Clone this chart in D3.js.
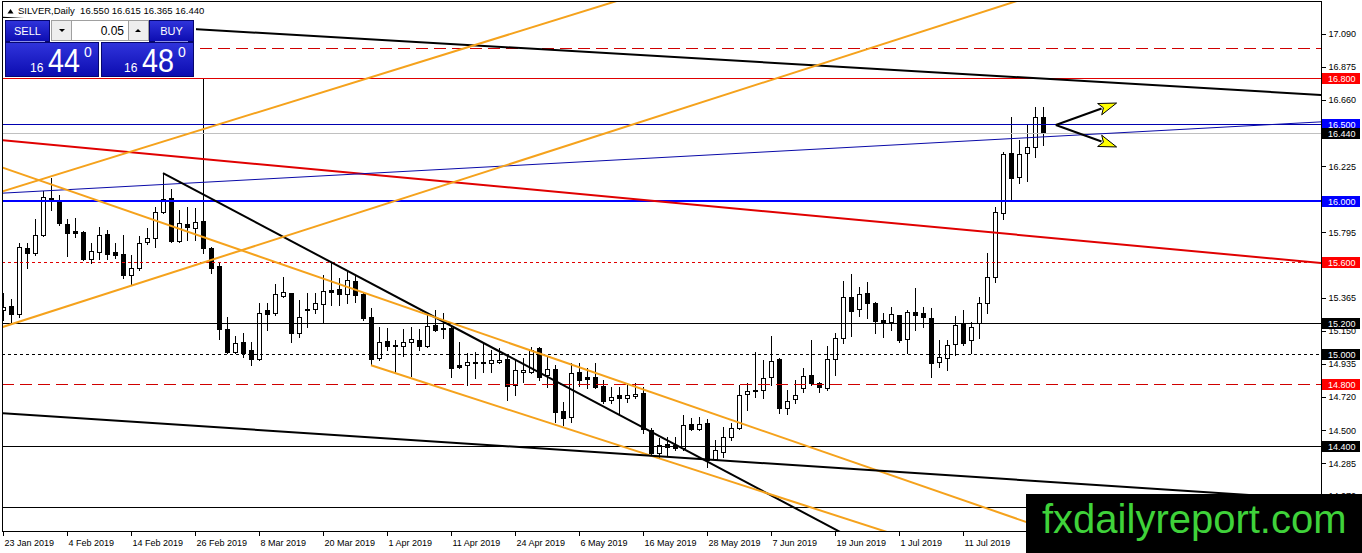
<!DOCTYPE html>
<html>
<head>
<meta charset="utf-8">
<script src="https://cdn.jsdelivr.net/npm/d3@7"></script>
<style>
  body { margin: 0; background: #fff; }
  svg text { font-family: "Liberation Sans", Arial, sans-serif; }
</style>
</head>
<body>
<svg id="chart" width="1362" height="553"></svg>
<script>
// SILVER daily candles, 23 Jan 2019 .. 25 Jul 2019 (bar index 0..130)
var opens = [
  15.285,15.311,15.258,15.690,15.657,15.775,16.017,16.004,15.847,15.801,
  15.795,15.618,15.664,15.782,15.664,15.651,15.514,15.559,15.729,15.756,
  15.926,16.017,15.736,15.847,15.821,15.867,15.690,15.572,15.160,15.010,
  15.075,15.023,14.964,15.285,15.265,15.376,15.396,15.134,15.291,15.291,
  15.324,15.415,15.422,15.389,15.474,15.389,15.239,14.971,15.082,15.056,
  15.049,15.075,15.088,15.049,15.187,15.167,15.167,14.925,14.925,14.945,
  14.945,14.938,14.945,14.964,14.794,14.879,14.879,15.036,14.860,14.899,
  14.624,14.585,14.879,14.846,14.846,14.788,14.696,14.729,14.709,14.722,
  14.742,14.500,14.349,14.408,14.402,14.382,14.539,14.506,14.546,14.310,
  14.356,14.454,14.513,14.735,14.755,14.761,14.846,14.964,14.644,14.703,
  14.774,14.860,14.807,14.774,14.964,15.102,15.370,15.291,15.396,15.330,
  15.219,15.206,15.252,15.095,15.272,15.265,15.232,14.945,14.971,15.062,
  15.200,15.088,15.200,15.330,15.500,15.919,16.312,16.155,16.312,16.351,
  16.550
]
var highs = [
  15.396,15.357,15.723,15.723,15.880,16.063,16.148,16.037,15.880,15.886,
  15.800,15.723,15.827,15.808,15.723,15.775,15.644,15.769,15.821,15.958,
  16.181,16.076,15.939,15.958,15.952,16.795,15.697,15.592,15.239,15.115,
  15.134,15.075,15.330,15.330,15.455,15.500,15.400,15.350,15.396,15.396,
  15.514,15.599,15.494,15.535,15.514,15.396,15.298,15.173,15.167,15.088,
  15.160,15.173,15.160,15.265,15.285,15.265,15.187,15.075,15.003,15.010,
  15.069,15.023,15.036,14.984,14.958,14.971,15.043,15.043,14.977,14.925,
  14.683,14.938,14.938,14.905,14.938,14.827,14.781,14.781,14.807,14.807,
  14.781,14.513,14.447,14.454,14.454,14.598,14.578,14.585,14.572,14.434,
  14.519,14.546,14.794,14.807,15.010,14.958,15.115,14.971,14.761,14.827,
  14.905,15.088,14.814,15.049,15.134,15.474,15.520,15.435,15.468,15.337,
  15.265,15.304,15.255,15.285,15.428,15.304,15.298,15.088,15.088,15.245,
  15.285,15.206,15.370,15.657,15.958,16.318,16.547,16.396,16.495,16.612,
  16.615
]
var lows = [
  15.219,15.193,15.239,15.559,15.644,15.769,15.939,15.841,15.638,15.762,
  15.612,15.592,15.618,15.618,15.625,15.494,15.448,15.546,15.716,15.697,
  15.919,15.729,15.729,15.742,15.742,15.657,15.527,15.095,15.003,15.003,
  14.977,14.925,14.958,15.154,15.252,15.370,15.075,15.108,15.173,15.265,
  15.206,15.317,15.317,15.330,15.337,15.219,14.925,14.958,15.023,14.879,
  14.984,14.853,15.023,15.043,15.147,15.102,14.846,14.905,14.794,14.840,
  14.879,14.879,14.938,14.696,14.729,14.814,14.873,14.827,14.781,14.552,
  14.533,14.552,14.788,14.774,14.774,14.676,14.676,14.598,14.683,14.709,
  14.480,14.336,14.323,14.330,14.369,14.369,14.500,14.500,14.258,14.304,
  14.323,14.434,14.510,14.631,14.716,14.709,14.794,14.611,14.604,14.676,
  14.748,14.794,14.748,14.761,14.860,15.069,15.115,15.245,15.232,15.134,
  15.108,15.154,15.075,15.003,15.154,15.173,14.846,14.912,14.892,14.990,
  15.056,15.003,15.102,15.265,15.468,15.880,16.004,16.115,16.128,16.285,
  16.365
]
var closes = [
  15.304,15.258,15.697,15.657,15.775,16.024,16.004,15.854,15.788,15.788,
  15.618,15.670,15.775,15.651,15.644,15.514,15.559,15.723,15.756,15.926,
  16.011,15.736,15.854,15.827,15.860,15.690,15.559,15.160,15.010,15.069,
  15.003,14.964,15.265,15.258,15.389,15.402,15.134,15.239,15.285,15.330,
  15.409,15.402,15.389,15.481,15.383,15.232,14.964,15.075,15.049,15.049,
  15.075,15.095,15.049,15.180,15.154,15.160,14.905,14.912,14.945,14.938,
  14.938,14.958,14.958,14.788,14.892,14.892,15.023,14.846,14.899,14.618,
  14.578,14.873,14.827,14.833,14.781,14.689,14.716,14.709,14.729,14.735,
  14.506,14.349,14.402,14.389,14.382,14.533,14.506,14.539,14.304,14.369,
  14.454,14.513,14.729,14.755,14.761,14.840,14.951,14.644,14.689,14.729,
  14.853,14.807,14.781,14.964,15.102,15.370,15.278,15.389,15.330,15.213,
  15.200,15.258,15.088,15.272,15.252,15.239,14.938,14.977,15.056,15.187,
  15.069,15.173,15.330,15.500,15.926,16.305,16.148,16.305,16.351,16.547,
  16.440
]

var dateLabels = ["23 Jan 2019","4 Feb 2019","14 Feb 2019","26 Feb 2019","8 Mar 2019",
  "20 Mar 2019","1 Apr 2019","11 Apr 2019","24 Apr 2019","6 May 2019","16 May 2019",
  "28 May 2019","7 Jun 2019","19 Jun 2019","1 Jul 2019","11 Jul 2019"]
var dateBars = d3.range(0, 121, 8)

var priceTicks = [17.090,16.875,16.660,16.445,16.225,16.010,15.795,15.580,
  15.365,15.150,14.935,14.720,14.500,14.285,14.070]

// horizontal levels drawn on the chart
var levelPrices = [17.000,16.800,16.500,16.440,16.000,15.600,15.200,15.000,14.800,14.400,14.000]
// levels that carry a price tag on the axis
var tagPrices = [16.800,16.500,16.440,16.000,15.600,15.200,15.000,14.800,14.400]

// trend lines: [bar1, price1, bar2, price2]
var trendLines = [
  [-0.4, 17.197, 164.8, 16.692],
  [-0.4, 16.397, 164.8, 15.593],
  [-0.4, 16.049, 164.8, 16.516],
  [20, 16.181, 106, 13.798],
  [-0.4, 16.056, 77.1, 17.312],
  [-0.4, 15.169, 127.1, 17.312],
  [-0.4, 16.223, 164.8, 13.233],
  [46, 14.925, 112, 13.810],
  [-0.4, 14.613, 164.8, 14.046]
]
var arrowFrom = [131.6, 16.495]
var arrowTips = [[139.2, 16.639], [139.2, 16.352]]

var bid = 16.440, ask = 16.480, lotSize = "0.05"

// ---------------------------------------------------------------
var W = 1362, H = 553
var plot = {left: 2, top: 1, right: 1321, bottom: 531}
var fmt = d3.format(".3f")

var x = d3.scaleLinear().domain([0, 130]).range([3, 1043])
var y = d3.scaleLinear().domain([14, 17]).range([506.8, 47.8])

var svg = d3.select("#chart")
svg.append("rect").attr("width", W).attr("height", H).attr("fill", "#fff")

var defs = svg.append("defs")
defs.append("clipPath").attr("id", "plotClip").append("rect")
  .attr("x", plot.left + 1).attr("y", plot.top + 1)
  .attr("width", plot.right - plot.left - 1).attr("height", plot.bottom - plot.top - 1)

var grad = defs.append("linearGradient").attr("id", "btnBlue")
  .attr("x1", 0).attr("y1", 0).attr("x2", 0).attr("y2", 1)
grad.append("stop").attr("offset", "0%").attr("stop-color", "#3034dc")
grad.append("stop").attr("offset", "100%").attr("stop-color", "#0c0cb0")

var g = svg.append("g").attr("clip-path", "url(#plotClip)")

// candles
var bars = d3.range(closes.length)
var cg = g.append("g").attr("shape-rendering", "crispEdges")
cg.selectAll("line.wick").data(bars).join("line").attr("class", "wick")
  .attr("x1", function(i) { return Math.round(x(i)) + 0.5 })
  .attr("x2", function(i) { return Math.round(x(i)) + 0.5 })
  .attr("y1", function(i) { return Math.round(y(highs[i])) })
  .attr("y2", function(i) { return Math.round(y(lows[i])) + 1 })
  .attr("stroke", "#000")
cg.selectAll("rect.body").data(bars).join("rect").attr("class", "body")
  .attr("x", function(i) { return Math.round(x(i)) - 1.5 })
  .attr("y", function(i) { return Math.round(y(Math.max(opens[i], closes[i]))) + 0.5 })
  .attr("width", 4)
  .attr("height", function(i) {
    return Math.max(1, Math.round(y(Math.min(opens[i], closes[i]))) - Math.round(y(Math.max(opens[i], closes[i]))))
  })
  .attr("fill", function(i) { return closes[i] >= opens[i] ? "#fff" : "#000" })
  .attr("stroke", "#000")

// horizontal levels
var levelStyles = [
  {c: "#d00000", w: 1, d: "12,6"},
  {c: "#e00000", w: 1, d: null},
  {c: "#0000b0", w: 1, d: null},
  {c: "#c0c0c0", w: 1, d: null},
  {c: "#0000ff", w: 2, d: null},
  {c: "#e00000", w: 1, d: "3,3"},
  {c: "#000000", w: 1, d: null},
  {c: "#000000", w: 1, d: "3,3"},
  {c: "#d00000", w: 1, d: "12,6"},
  {c: "#000000", w: 1, d: null},
  {c: "#000000", w: 1, d: null}
]
g.append("g").attr("shape-rendering", "crispEdges")
  .selectAll("line").data(levelPrices).join("line")
  .attr("x1", plot.left).attr("x2", plot.right)
  .attr("y1", function(p, i) { return Math.round(y(p)) + (levelStyles[i].w === 1 ? 0.5 : 0) })
  .attr("y2", function(p, i) { return Math.round(y(p)) + (levelStyles[i].w === 1 ? 0.5 : 0) })
  .attr("stroke", function(p, i) { return levelStyles[i].c })
  .attr("stroke-width", function(p, i) { return levelStyles[i].w })
  .attr("stroke-dasharray", function(p, i) { return levelStyles[i].d })

// trend lines
var trendStyles = [
  {c: "#000", w: 2}, {c: "#e00000", w: 2}, {c: "#0a0aa8", w: 1},
  {c: "#000", w: 2}, {c: "#f5a21c", w: 2}, {c: "#f5a21c", w: 2},
  {c: "#f5a21c", w: 2}, {c: "#f5a21c", w: 2}, {c: "#000", w: 2}
]
g.append("g").selectAll("line").data(trendLines).join("line")
  .attr("x1", function(d) { return x(d[0]) }).attr("y1", function(d) { return y(d[1]) })
  .attr("x2", function(d) { return x(d[2]) }).attr("y2", function(d) { return y(d[3]) })
  .attr("stroke", function(d, i) { return trendStyles[i].c })
  .attr("stroke-width", function(d, i) { return trendStyles[i].w })

// arrows
var ax0 = x(arrowFrom[0]), ay0 = y(arrowFrom[1])
arrowTips.forEach(function(t) {
  var tx = x(t[0]), ty = y(t[1])
  var dx = tx - ax0, dy = ty - ay0, len = Math.hypot(dx, dy)
  var ux = dx / len, uy = dy / len
  var bx = tx - ux * 18, by = ty - uy * 18
  g.append("line").attr("x1", ax0).attr("y1", ay0).attr("x2", bx + ux * 2).attr("y2", by + uy * 2)
    .attr("stroke", "#000").attr("stroke-width", 2)
  g.append("polygon")
    .attr("points", [[tx, ty], [bx - uy * 6, by + ux * 6], [bx + ux * 4, by + uy * 4], [bx + uy * 6, by - ux * 6]].join(" "))
    .attr("fill", "#ffff00").attr("stroke", "#000").attr("stroke-width", 1)
})

// frame
svg.append("rect").attr("x", plot.left + 0.5).attr("y", plot.top + 0.5)
  .attr("width", plot.right - plot.left).attr("height", plot.bottom - plot.top)
  .attr("fill", "none").attr("stroke", "#000").attr("shape-rendering", "crispEdges")

// right price axis
var ya = svg.append("g").attr("transform", "translate(" + (plot.right + 0.5) + ",0)")
  .call(d3.axisRight(y).tickValues(priceTicks).tickFormat(fmt).tickSize(4).tickPadding(3))
ya.select(".domain").remove()
ya.attr("font-family", "Liberation Sans, Arial, sans-serif").attr("font-size", 9)
ya.selectAll("line").attr("shape-rendering", "crispEdges")

// bottom date axis
var xa = svg.append("g").attr("transform", "translate(0," + (plot.bottom + 0.5) + ")")
  .call(d3.axisBottom(x).tickValues(dateBars)
    .tickFormat(function(d, i) { return dateLabels[i] }).tickSize(4).tickPadding(4))
xa.select(".domain").remove()
xa.attr("font-family", "Liberation Sans, Arial, sans-serif").attr("font-size", 9)
xa.selectAll("text").attr("text-anchor", "start").attr("x", 1)
xa.selectAll("line").attr("shape-rendering", "crispEdges")

// price tags
var tagColors = ["#ff0000", "#0000ff", "#000000", "#0000ff", "#ff0000",
  "#000000", "#000000", "#ff0000", "#000000"]
var tags = svg.append("g").selectAll("g").data(tagPrices).join("g")
tags.append("rect")
  .attr("x", plot.right + 1).attr("y", function(p) { return Math.round(y(p)) - 5 })
  .attr("width", 38).attr("height", 11)
  .attr("fill", function(p, i) { return tagColors[i] })
tags.append("text")
  .attr("x", plot.right + 7).attr("y", function(p) { return Math.round(y(p)) + 4 })
  .attr("font-size", 9).attr("fill", "#fff").text(fmt)

// header
var last = closes.length - 1
svg.append("path").attr("d", "M7.5,13.5 L10.5,9 L13.5,13.5 Z").attr("fill", "#000")
svg.append("text").attr("x", 18).attr("y", 14).attr("font-size", 9.5).attr("xml:space", "preserve")
  .text("SILVER,Daily  " + [opens[last], highs[last], lows[last], closes[last]].map(fmt).join(" "))

// one-click trading panel
var panel = svg.append("g")
panel.append("rect").attr("x", 3).attr("y", 18).attr("width", 193).attr("height", 60).attr("fill", "#fff")
function blueBox(x0, y0, w, h) {
  panel.append("rect").attr("x", x0 + 0.5).attr("y", y0 + 0.5).attr("width", w - 1).attr("height", h - 1)
    .attr("fill", "url(#btnBlue)").attr("stroke", "#06066e")
}
blueBox(5, 20, 45, 22)
blueBox(149, 20, 45, 22)
blueBox(5, 42, 94, 35)
blueBox(101, 42, 93, 35)
panel.append("line").attr("x1", 10).attr("x2", 45).attr("y1", 41.5).attr("y2", 41.5).attr("stroke", "#8c90e8")
panel.append("line").attr("x1", 155).attr("x2", 188).attr("y1", 41.5).attr("y2", 41.5).attr("stroke", "#8c90e8")
panel.append("text").attr("x", 27.5).attr("y", 35).attr("text-anchor", "middle")
  .attr("font-size", 11).attr("fill", "#fff").text("SELL")
panel.append("text").attr("x", 171.5).attr("y", 35).attr("text-anchor", "middle")
  .attr("font-size", 11).attr("fill", "#fff").text("BUY")
// lot spinner
panel.append("rect").attr("x", 51.5).attr("y", 20.5).attr("width", 20).attr("height", 20)
  .attr("fill", "#eeeeee").attr("stroke", "#a0a0a0")
panel.append("rect").attr("x", 71.5).attr("y", 20.5).attr("width", 57).attr("height", 20)
  .attr("fill", "#fff").attr("stroke", "#a0a0a0")
panel.append("rect").attr("x", 128.5).attr("y", 20.5).attr("width", 20).attr("height", 20)
  .attr("fill", "#eeeeee").attr("stroke", "#a0a0a0")
panel.append("path").attr("d", "M59,29 L65,29 L62,32 Z").attr("fill", "#000")
panel.append("path").attr("d", "M135,32 L141,32 L138,29 Z").attr("fill", "#000")
panel.append("text").attr("x", 124).attr("y", 35).attr("text-anchor", "end")
  .attr("font-size", 12).attr("fill", "#000").text(lotSize)

function quote(v, x0) {
  var s = fmt(v)
  panel.append("text").attr("x", x0).attr("y", 71.5).attr("font-size", 12).attr("fill", "#fff").text(s.slice(0, 2))
  panel.append("text").attr("x", x0 + 18).attr("y", 72).attr("font-size", 34).attr("fill", "#fff")
    .attr("textLength", 32).attr("lengthAdjust", "spacingAndGlyphs").text(s.slice(3, 5))
  panel.append("text").attr("x", x0 + 54).attr("y", 57).attr("font-size", 14).attr("fill", "#fff").text(s.slice(5))
}
quote(bid, 30)
quote(ask, 124)

// watermark
svg.append("rect").attr("x", 1026).attr("y", 494).attr("width", W - 1026).attr("height", H - 494).attr("fill", "#000")
svg.append("text").attr("x", 1042).attr("y", 533).attr("font-size", 40).attr("fill", "#3fd23a")
  .text("fxdailyreport.com")
</script>
</body>
</html>
